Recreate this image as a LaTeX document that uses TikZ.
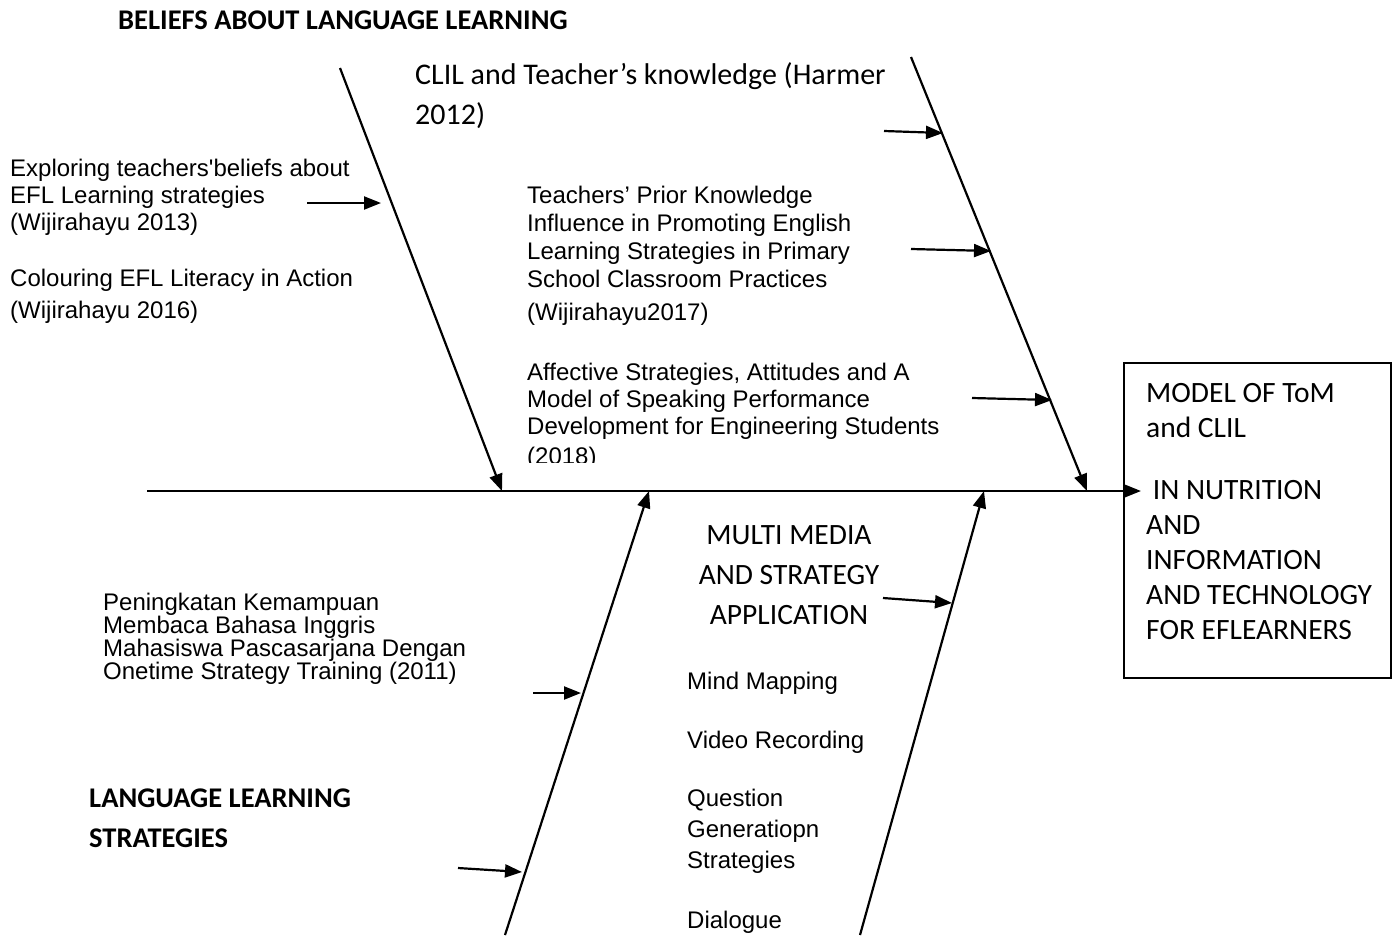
\documentclass[tikz,border=0pt]{standalone}
\usepackage{fontspec}
\newfontfamily\calfnt{Carlito}
\newfontfamily\arfnt{Liberation Sans}
\usetikzlibrary{arrows.meta}
\tikzset{
  bone/.style={line width=2.2pt, -{Triangle[length=17pt,width=13pt]}},
  twig/.style={line width=2.2pt, -{Triangle[length=17pt,width=13pt]}},
  arial/.style={inner sep=0pt, anchor=base west, align=left, font=\arfnt\fontsize{24}{27}\selectfont},
  calib/.style={inner sep=0pt, anchor=base west, align=left, font=\calfnt\fontsize{30}{40}\selectfont},
  head/.style={inner sep=0pt, anchor=base west, align=left, font=\calfnt\bfseries\fontsize{28.5}{40}\selectfont},
}
\begin{document}
\begin{tikzpicture}[x=1pt,y=-1pt]
\useasboundingbox (0,0) rectangle (1392,935);
% box
\draw[line width=1.5pt] (1124,363) rectangle (1391,678);
\node[calib, font=\calfnt\fontsize{29.5}{35}\selectfont] (model) at (1146,437) {MODEL OF ToM\\and CLIL};
\node[calib, font=\calfnt\fontsize{29.5}{35}\selectfont] (modelb) at (1146,639) {\ IN NUTRITION\\AND\\INFORMATION\\AND TECHNOLOGY\\FOR EFLEARNERS};
% spine and bones
\coordinate (spL) at (147,491);
\coordinate (spR) at (1141,491);
\draw[bone, line width=2.4pt] (spL) -- (spR);
\coordinate (b1t) at (340,68);   \coordinate (b1e) at (502,491);
\coordinate (b2t) at (911,57);   \coordinate (b2e) at (1087,491);
\coordinate (b3t) at (505,935);  \coordinate (b3e) at (649,491);
\coordinate (b4t) at (860,935);  \coordinate (b4e) at (984,491);
\draw[bone] (b1t) -- (b1e);
\draw[bone] (b2t) -- (b2e);
\draw[bone] (b3t) -- (b3e);
\draw[bone] (b4t) -- (b4e);
% twigs
\coordinate (t1s) at (307,203); \coordinate (t1e) at (381,203);
\coordinate (t2s) at (884,131); \coordinate (t2e) at (943,133);
\coordinate (t3s) at (911,249); \coordinate (t3e) at (991,251);
\coordinate (t4s) at (972,398); \coordinate (t4e) at (1052,400);
\coordinate (t5s) at (533,693); \coordinate (t5e) at (581,693);
\coordinate (t6s) at (458,868); \coordinate (t6e) at (522,872);
\coordinate (t7s) at (883,598); \coordinate (t7e) at (952,603);
\foreach \s/\e in {t1s/t1e,t2s/t2e,t3s/t3e,t4s/t4e,t5s/t5e,t6s/t6e,t7s/t7e}
  \draw[twig] (\s) -- (\e);
% headings
\node[head] (beliefs) at (118,29) {BELIEFS ABOUT LANGUAGE LEARNING};
\node[head] (lls) at (89,847) {LANGUAGE LEARNING\\STRATEGIES};
% texts
\node[calib] (clil) at (415,124) {CLIL and Teacher’s knowledge (Harmer\\2012)};
\node[arial] (explore) at (10,230) {Exploring teachers'beliefs about\\EFL Learning strategies\\(Wijirahayu 2013)};
\node[arial, font=\arfnt\fontsize{24}{32}\selectfont] (colour) at (10,318) {Colouring EFL Literacy in Action\\(Wijirahayu 2016)};
\node[arial, font=\arfnt\fontsize{24}{28}\selectfont] (prior) at (527,320) {Teachers’ Prior Knowledge\\Influence in Promoting English\\Learning Strategies in Primary\\School Classroom Practices\\[5pt](Wijirahayu2017)};
\begin{scope}
\clip (500,340) rectangle (1000,462);
\node[arial] (affect) at (527,464) {Affective Strategies, Attitudes and A\\Model of Speaking Performance\\Development for Engineering Students\\[3pt](2018)};
\end{scope}
\node[calib, font=\calfnt\fontsize{29.5}{40}\selectfont, anchor=base, align=center] (multi) at (789,624) {MULTI MEDIA\\AND STRATEGY\\APPLICATION};
\node[arial, font=\arfnt\fontsize{24}{23}\selectfont] (pening) at (103,679) {Peningkatan Kemampuan\\Membaca Bahasa Inggris\\Mahasiswa Pascasarjana Dengan\\Onetime Strategy Training (2011)};
\node[arial] (mind) at (687,689) {Mind Mapping};
\node[arial] (video) at (687,748) {Video Recording};
\node[arial, font=\arfnt\fontsize{24}{31}\selectfont] (question) at (687,868) {Question\\Generatiopn\\Strategies};
\node[arial] (dialogue) at (687,928) {Dialogue};
\end{tikzpicture}
\end{document}
